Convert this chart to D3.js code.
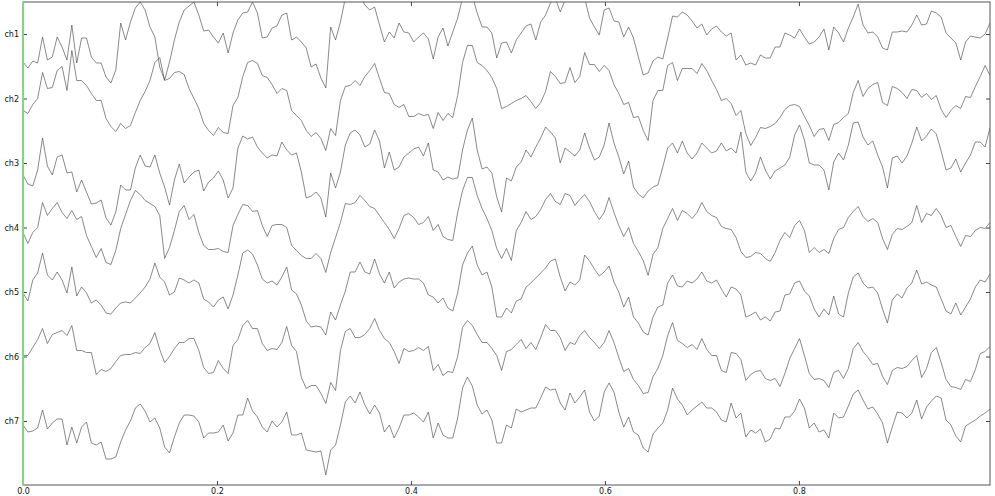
<!DOCTYPE html>
<html>
<head>
<meta charset="utf-8">
<script src="https://cdn.jsdelivr.net/npm/d3@7"></script>
<style>
  body { margin: 0; background: #fff; }
  .axis text { font-family: "DejaVu Sans", sans-serif; font-size: 8px; fill: #111; }
  .axis path { display: none; }
  .axis line { stroke: #444; }
</style>
</head>
<body>
<div id="eegChart"></div>
<script>
// channel names, top to bottom
var channels = ["ch1", "ch2", "ch3", "ch4", "ch5", "ch6", "ch7"];
var xTicks = [0.0, 0.2, 0.4, 0.6, 0.8];
var duration = 0.997;      // seconds shown
var spacing = 64.5;        // offset between channels (uV)

// samples per channel (uV relative to the channel baseline), evenly spaced over the duration
var ch1Vals = [-28, -34, -27, -29, -3, -26, -23, -3, -13, -26, 9, -29, -4, -4, -23, -29, -29, -43, -49, -36, 11, -6, 12, 26, 32, 24, 7, -3, -33, -46, -28, -6,
  12, 24, 28, 32, 19, 3, 4, -3, -9, 1, -19, 1, 14, 21, 22, 32, 21, -4, -3, 6, 8, 19, 21, -6, -3, -8, -14, -33, -30, -44, -54, 7,
  -6, 12, 36, 40, 40, 38, 29, 24, 27, 9, -8, 2, -4, 11, 2, 1, -8, -3, 1, -5, -25, -3, 6, -12, 2, 16, 36, 40, 38, 21, 7, 7, 1, -24,
  -9, -8, -19, -6, 1, 8, 10, -6, 12, 19, 31, 36, 22, 34, 38, 40, 38, 36, 16, 7, -1, 24, 26, 13, 12, -3, 7, -4, -23, -41, -39, -27, -23, -25,
  -4, 18, 17, 22, 19, 13, 6, 10, -1, 5, 8, 2, -2, 1, -26, -21, -31, -29, -31, -21, -24, -24, -13, -13, 1, -1, -4, 5, -3, -10, -8, -3,
  5, -16, 7, 1, -8, 6, 17, 30, 9, 1, 2, -3, -14, -16, 2, 2, 3, 2, 9, 19, 9, 10, 23, 21, 17, 1, -4, -9, -26, -8, -2, -3, -4, 0, 11];
var ch2Vals = [-12, -15, -6, 0, 26, 10, 11, 28, 32, 8, 48, 18, 18, 13, 5, -2, -2, -20, -28, -33, -25, -30, -27, -14, -2, 7, 18, 36, 41, 18, 20, 26,
  27, 24, 10, 0, -10, -25, -32, -37, -29, -34, -35, -7, 1, 22, 36, 38, 35, 23, 21, 14, 5, 10, 8, -12, -17, -22, -32, -38, -34, -40, -52, -30,
  -37, -2, 12, 13, 18, 13, 22, 28, 35, 20, 6, 5, -6, -9, -6, -18, -18, -15, -17, -16, -30, -14, -22, -15, -19, 3, 36, 53, 53, 36, 33, 28, 21, 10,
  -10, -8, -5, -2, 0, 3, -3, -10, -4, 7, 27, 22, 15, 16, 31, 16, 22, 46, 34, 34, 27, 33, 28, 14, 5, -6, -4, -19, -18, -32, -42, -2, 8, 8,
  33, 36, 18, 30, 30, 30, 25, 35, 28, 18, 9, -2, 0, -5, -17, -12, -35, -47, -39, -29, -30, -28, -25, -19, -11, -7, -6, -8, -18, -27, -38, -31,
  -30, -42, -26, -24, -19, -15, 6, 18, 2, 10, 14, 16, -4, -7, 12, 10, 6, 0, 9, 8, 1, 5, -1, 3, -11, -19, -12, -7, -10, 2, 1, 12, 22, 33, 23];
var ch3Vals = [-12, -21, -23, -7, 25, -3, -12, 6, 8, -10, -9, -29, -17, -29, -41, -40, -37, -55, -62, -49, -22, -27, -27, -5, 8, -3, -4, 8, -10, -24, -42, -17,
  -1, -20, -14, -9, -7, -28, -19, -15, -8, -17, -35, -25, 15, 27, 24, 26, 16, 10, 5, 8, 7, 21, 13, 8, 10, -9, -35, -33, -29, -35, -54, -10,
  -25, -9, 18, 30, 33, 28, 16, 19, 33, 22, -5, 11, -7, -4, 6, 10, 14, 16, 7, 20, -7, -9, -17, -14, -16, -15, 13, 33, 45, 13, -6, -4, -10, -34,
  -49, -15, -18, -4, 1, 13, 6, 16, 25, 36, 31, 25, 0, 15, 11, 7, 13, 30, 15, 3, 6, 18, 40, 20, 6, -11, 2, -24, -31, -35, -28, -24, -22, -4,
  15, 20, 10, 22, 10, 4, 10, 20, 15, 10, 12, 20, 12, 15, 10, 31, -9, -18, -10, 6, -7, -16, -8, -5, -2, 6, 28, 38, 23, 0, -2, -2,
  -7, -27, 1, 10, 3, 18, 40, 41, 26, 18, 22, 8, -4, -25, 5, 7, 0, 7, 20, 36, 22, 27, 34, 29, 12, -7, -5, 4, -9, 0, 8, 21, 21, 16, 35];
var ch4Vals = [-5, -16, -5, 0, 25, 12, 19, 25, 15, 9, 17, 8, 11, -8, -19, -30, -21, -35, -37, -23, -1, 13, 27, 37, 33, 27, 24, 21, 12, -31, -20, -3,
  16, 22, 8, 13, -5, -18, -22, -22, -21, -24, -25, 2, 13, 23, 22, 16, 17, 2, -9, 2, 3, 3, 0, -18, -23, -28, -31, -31, -26, -31, -45, -25,
  -10, 5, 24, 23, 25, 32, 27, 21, 19, 12, 5, -2, -11, -1, 12, 14, 10, 3, 5, 11, -3, 3, -9, -12, -13, 15, 37, 50, 50, 32, 19, 9, -3, -21,
  -31, -21, -33, -3, 5, 16, 8, 11, 18, 28, 34, 26, 23, 34, 32, 22, 28, 33, 26, 16, 8, 15, 30, 15, 2, -9, 0, -16, -24, -33, -48, -27, -20, -1,
  9, 19, 7, 17, 14, 9, 15, 25, 16, 12, 10, 1, -1, -2, -10, -24, -30, -29, -25, -26, -31, -34, -25, -13, -5, -10, 2, 7, -3, -25, -20, -25,
  -22, -26, -11, -2, 0, 10, 16, 21, 11, 6, 9, 5, -11, -22, -7, -1, -2, 1, 5, 22, 5, 14, 12, 19, 12, 0, 2, -9, -19, -8, -9, -3, 0, -1, 5];
var ch5Vals = [-1, -9, 12, 19, 39, 17, 12, 20, 12, -1, 25, -4, 5, -1, -11, -8, -13, -21, -22, -16, -11, -10, -11, -6, -1, 5, 13, 29, 15, 10, -3, 0,
  14, 12, 9, 12, 9, -7, -10, -15, -8, -5, -17, -3, 17, 39, 42, 38, 27, 13, 9, 11, 7, 15, 25, 2, -2, -13, -29, -35, -34, -35, -43, -20,
  -28, -13, 1, 20, 20, 30, 20, 18, 33, 18, 9, 20, 4, 10, 13, 14, 13, 13, 9, -3, -5, -11, -6, -16, -19, -1, 27, 39, 46, 27, 17, 20, 5, -25,
  -25, -16, -21, -9, -7, 5, 9, 14, 19, 24, 31, 33, 15, 1, 10, 7, 12, 37, 31, 23, 16, 20, 26, 10, 0, -15, -5, -25, -31, -40, -43, -25, -15, -13,
  9, 17, 6, 5, 11, 9, 13, 20, 11, 9, 12, 3, -5, 5, 3, -3, -25, -23, -20, -28, -25, -29, -20, -19, -3, -2, 9, 11, 1, -4, -17, -25,
  -17, -23, -4, -22, -25, -1, 15, 19, 9, 4, 5, -1, -17, -31, -8, -2, -6, 4, 9, 22, 8, 10, 7, 5, -7, -19, -22, -11, -23, -15, -7, 5, 12, 10, 18];
var ch6Vals = [1, 1, 9, 17, 28, 13, 22, 24, 26, 21, 31, 6, 6, 4, 4, -18, -13, -15, -12, -5, 1, 2, 2, 4, 3, 9, 13, 24, 7, -6, 0, 8,
  14, 14, 18, 18, 6, -11, -17, -16, -4, -12, -17, 11, 17, 31, 36, 28, 28, 13, 6, 8, 7, 14, 30, 11, 5, -21, -32, -29, -29, -37, -47, -26,
  -34, 6, 25, 28, 19, 19, 22, 28, 38, 26, 18, 14, 5, -7, 8, 5, 6, 9, 6, 10, -14, -8, -19, -15, -16, 0, 29, 36, 31, 22, 14, 14, 8, 1,
  -14, 5, 7, 12, 17, 8, 14, 7, 19, 32, 26, 26, 19, 6, 14, 12, 21, 26, 19, 14, 8, 14, 26, 14, -1, -15, -12, -23, -29, -37, -36, -20, -12, 1,
  21, 34, 16, 13, 9, 12, 7, 18, 7, 1, 1, -14, -16, 4, 3, -3, -24, -18, -15, -14, -22, -24, -22, -30, -17, -2, 8, 18, 1, -17, -23, -22,
  -24, -31, -16, -14, -22, -12, 8, 14, 5, -1, -8, -7, -20, -28, -14, -11, -12, -10, -4, 1, -21, -12, 4, 9, -6, -23, -30, -31, -33, -23, -25, -13, 3, 5, 10];
var ch7Vals = [-4, -11, -10, -7, 11, -8, -2, 2, 2, -24, -6, -22, -6, -1, -22, -24, -21, -38, -38, -36, -21, -9, 0, 13, 17, 10, -1, 3, -7, -26, -32, -16,
  -2, 6, 6, 5, -1, -17, -12, -12, -11, -4, -20, -12, 6, 6, 23, 10, 4, -6, -11, 0, -6, -1, 9, -14, -14, -12, -29, -30, -31, -30, -54, -29,
  -24, -4, 19, 25, 18, 29, 16, 7, 16, 8, -11, -4, -17, -7, 6, 6, 8, 4, -1, 9, -17, -2, -14, -17, -17, 3, 33, 44, 35, 16, 7, 11, 1, -22,
  -22, -4, -7, 12, 9, 11, 13, 13, 23, 34, 31, 32, 18, 11, 28, 18, 24, 31, 9, 0, 5, 29, 38, 29, 9, -6, 4, -11, -14, -27, -31, -13, -7, -2,
  11, 33, 22, 16, 6, 11, 15, 19, 13, 13, 9, 1, -1, 18, 3, 8, -16, -9, -12, -8, -21, -18, -7, -8, 4, 4, 10, 22, 13, -7, -2, -11,
  -9, -17, 8, 3, 4, 15, 27, 31, 21, 12, 14, 7, -2, -22, -6, 9, 8, 3, 8, 21, 2, 14, 20, 25, 23, 1, -4, -15, -21, -5, -2, 1, 5, 8, 12];

var series = [ch1Vals, ch2Vals, ch3Vals, ch4Vals, ch5Vals, ch6Vals, ch7Vals];

var margin = {top: 2, right: 5, bottom: 11, left: 23},
    width = 995 - margin.left - margin.right,
    height = 496 - margin.top - margin.bottom;

var step = duration / (ch1Vals.length - 1);

// setup x
var xScale = d3.scaleLinear().domain([0, duration]).range([0, width]);
// setup y : channel i sits at (n-1-i)*spacing
var yScale = d3.scaleLinear()
    .domain([-64, (channels.length - 1) * spacing + 32])
    .range([height, 0]);
var offsetOf = function(i) { return (channels.length - 1 - i) * spacing; };

var svg = d3.select("#eegChart").append("svg")
    .attr("width", 995)
    .attr("height", 496)
  .append("g")
    .attr("transform", "translate(" + margin.left + "," + margin.top + ")");

svg.append("clipPath").attr("id", "plotClip")
  .append("rect").attr("width", width).attr("height", height);

// traces
var line = d3.line()
    .x(function(d, j) { return xScale(j * step); })
    .y(function(d) { return yScale(d.v); });

svg.append("g")
    .attr("clip-path", "url(#plotClip)")
  .selectAll("path")
    .data(series)
  .enter().append("path")
    .attr("fill", "none")
    .attr("stroke", "#4a4a4a")
    .attr("stroke-width", 0.65)
    .attr("stroke-linejoin", "round")
    .attr("d", function(vals, i) {
      return line(vals.map(function(v) { return {v: v + offsetOf(i)}; }));
    });

// frame
svg.append("rect")
    .attr("width", width).attr("height", height)
    .attr("fill", "none")
    .attr("stroke", "#555")
    .attr("stroke-width", 1);

// x-axis (bottom labels, ticks inside) and mirrored top ticks
svg.append("g")
    .attr("class", "x axis")
    .attr("transform", "translate(0," + height + ")")
    .call(d3.axisBottom(xScale).tickValues(xTicks).tickSize(-4).tickPadding(3).tickFormat(d3.format(".1f")));

svg.append("g")
    .attr("class", "x axis")
    .call(d3.axisTop(xScale).tickValues(xTicks).tickSize(-4).tickFormat(""));

// y-axis : channel names, ticks inside
var chTicks = channels.map(function(c, i) { return offsetOf(i); });
svg.append("g")
    .attr("class", "y axis")
    .call(d3.axisLeft(yScale).tickValues(chTicks).tickSize(-4).tickPadding(4)
      .tickFormat(function(d, i) { return channels[i]; }));

svg.append("g")
    .attr("class", "y axis")
    .attr("transform", "translate(" + width + ",0)")
    .call(d3.axisRight(yScale).tickValues(chTicks).tickSize(-4).tickFormat(""));

// green left spine
svg.append("line")
    .attr("x1", 0).attr("x2", 0)
    .attr("y1", 0).attr("y2", height)
    .attr("stroke", "#7fd87f")
    .attr("stroke-width", 2);
</script>
</body>
</html>
